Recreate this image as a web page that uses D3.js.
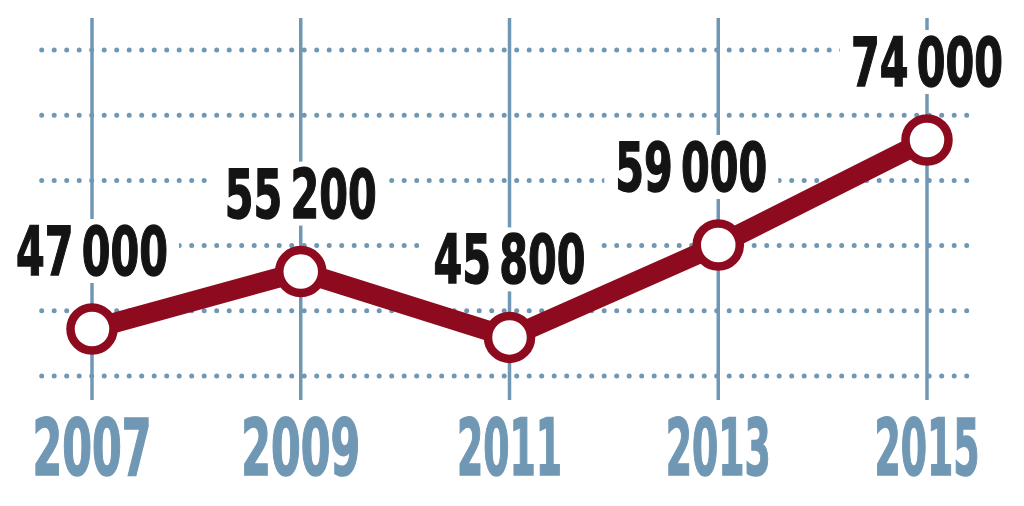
<!DOCTYPE html>
<html>
<head>
<meta charset="utf-8">
<script src="https://cdn.jsdelivr.net/npm/d3@7/dist/d3.min.js"></script>
<style>
  html, body { margin: 0; padding: 0; background: #fff; }
  svg { display: block; }
</style>
</head>
<body>
<svg id="chart" width="1024" height="506"></svg>
<script>
// ---- data ----
const years = ["2007", "2009", "2011", "2013", "2015"];
const values = [47000, 55200, 45800, 59000, 74000];
const gridRows = [0, 1, 2, 3, 4, 5];

// ---- setup ----
const svg = d3.select("#chart");
const FONT = "'Liberation Sans Narrow', 'DejaVu Sans Condensed', 'Roboto Condensed', 'Liberation Sans', sans-serif";
const blue = "#7098b4";
const red = "#8e0b1f";

const x = d3.scalePoint().domain(years).range([92, 927]);
const y = d3.scaleLinear().domain([40000, 80000]).range([378, 98]);
const gy = d3.scaleLinear().domain([0, 5]).range([376, 50]);

const fmt = d3.formatLocale({ decimal: ",", thousands: "\u2009", grouping: [3], currency: ["", ""] }).format(",");

// ---- grid ----
const grid = svg.append("g");
grid.selectAll("line.v").data(years).join("line")
  .attr("class", "v")
  .attr("x1", d => x(d)).attr("x2", d => x(d))
  .attr("y1", 18).attr("y2", 400)
  .attr("stroke", blue).attr("stroke-width", 3.5);

grid.selectAll("line.h").data(gridRows).join("line")
  .attr("class", "h")
  .attr("x1", 41.7).attr("x2", 968)
  .attr("y1", d => gy(d)).attr("y2", d => gy(d))
  .attr("stroke", blue).attr("stroke-width", 5)
  .attr("stroke-linecap", "round")
  .attr("stroke-dasharray", "0 12.5");

// ---- value labels with white backdrop ----
const labels = svg.append("g");
const labelOffsets = years.map((d, i) => (i === 3 ? -27 : 0));
const targetLabelW = 152;
const labelSize = 68;
const capH = 48;

const probe = labels.append("text").attr("font-family", FONT).attr("font-weight", 700)
  .attr("font-size", labelSize).text(fmt(values[0]));
const labelFactor = targetLabelW / probe.node().getComputedTextLength();
probe.remove();

values.forEach((v, i) => {
  const cx = x(years[i]) + labelOffsets[i];
  const base = y(v) - 54;
  const t = labels.append("text")
    .attr("font-family", FONT).attr("font-weight", 700)
    .attr("font-size", labelSize)
    .attr("fill", "#141414")
    .attr("stroke", "#141414").attr("stroke-width", 1.4)
    .text(fmt(v));
  const w = t.node().getComputedTextLength() * labelFactor;
  t.attr("x", cx - w / 2).attr("y", base)
    .attr("textLength", w).attr("lengthAdjust", "spacingAndGlyphs");
  labels.insert("rect", "text")
    .attr("x", cx - w / 2 - 11).attr("y", base - capH - 8)
    .attr("width", w + 22).attr("height", capH + 16)
    .attr("fill", "#fff");
});
labels.selectAll("rect").lower();

// ---- line ----
const line = d3.line().x((d, i) => x(years[i])).y(d => y(d));
svg.append("path")
  .datum(values)
  .attr("d", line)
  .attr("fill", "none")
  .attr("stroke", red)
  .attr("stroke-width", 20)
  .attr("stroke-linejoin", "round");

svg.selectAll("circle.pt").data(values).join("circle")
  .attr("class", "pt")
  .attr("cx", (d, i) => x(years[i]))
  .attr("cy", d => y(d))
  .attr("r", 21.5)
  .attr("fill", "#fff")
  .attr("stroke", red)
  .attr("stroke-width", 8.5);

// ---- year axis labels ----
const yearSize = 78;
const yearG = svg.append("g");
years.forEach(yr => {
  // the reference face has a narrow "1", so years containing it are set tighter
  const w = yr.includes("1") ? 105 : 119;
  yearG.append("text")
    .attr("font-family", FONT).attr("font-weight", 700)
    .attr("font-size", yearSize)
    .attr("fill", blue)
    .attr("stroke", blue).attr("stroke-width", 1.6)
    .attr("x", x(yr) - w / 2).attr("y", 475)
    .attr("textLength", w).attr("lengthAdjust", "spacingAndGlyphs")
    .text(yr);
});
</script>
</body>
</html>
